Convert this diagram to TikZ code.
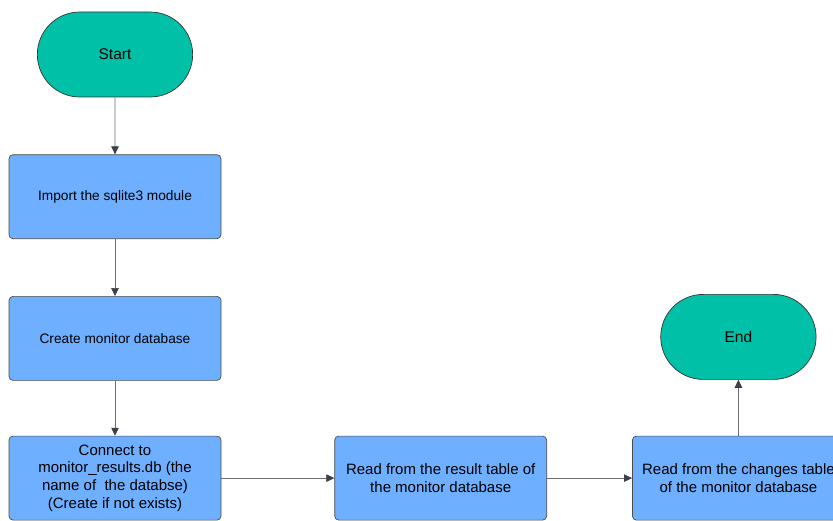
\documentclass[tikz,border=0pt]{standalone}
\usepackage{fontspec}
\setmainfont{Liberation Sans}
\usetikzlibrary{arrows.meta, positioning, shapes.misc}
\definecolor{StartTeal}{RGB}{0,193,167}
\definecolor{StepBlue}{RGB}{110,175,255}
\definecolor{EdgeGray}{RGB}{110,110,115}
\definecolor{TipDark}{RGB}{60,64,72}

\begin{document}
\begin{tikzpicture}[x=1pt,y=-1pt,
    terminal/.style={rounded rectangle, draw=black!80, line width=0.7pt, fill=StartTeal,
        minimum width=162pt, minimum height=85pt, font=\fontsize{15.5}{18}\selectfont},
    stepbox/.style={rectangle, rounded corners=4pt, draw=black!70, line width=0.7pt, fill=StepBlue,
        minimum width=212pt, minimum height=84pt, align=center, font=\fontsize{15}{17.8}\selectfont},
    small/.style={font=\fontsize{13.7}{17}\selectfont},
    flow/.style={draw=EdgeGray, line width=0.7pt, -{Triangle[length=8pt,width=7.5pt,color=TipDark]}}]
    \clip (0,0) rectangle (833,521);
    \fill[white] (0,0) rectangle (833,521);
    \node[terminal] (start) at (115,54.5) {Start};
    \node[stepbox, small, below=57pt of start] (import) {Import the sqlite3 module};
    \node[stepbox, small, below=57pt of import] (create) {Create monitor database};
    \node[stepbox, below=55pt of create] (connect) {Connect to\\monitor\_results.db (the\\name of\ \ the databse)\\(Create if not exists)};
    \node[stepbox, right=113pt of connect] (result) {Read from the result table of\\the monitor database};
    \node[stepbox, right=85pt of result] (changes) {Read from the changes table\\of the monitor database};
    \node[terminal, above=56pt of changes] (end) {End};
    \draw[flow] (start) -- (import);
    \draw[flow] (import) -- (create);
    \draw[flow] (create) -- (connect);
    \draw[flow] (connect) -- (result);
    \draw[flow] (result) -- (changes);
    \draw[flow] (changes) -- (end);
\end{tikzpicture}
\end{document}
